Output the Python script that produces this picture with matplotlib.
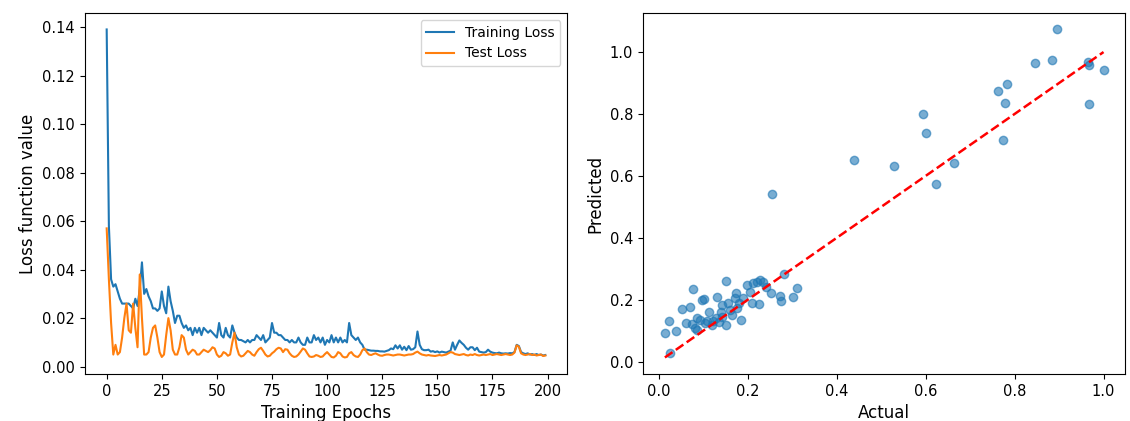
import numpy as np
import matplotlib
matplotlib.use("Agg")
import matplotlib.pyplot as plt

# loss curves (200 epochs)
train_loss = [
    0.139, 0.058, 0.036, 0.033, 0.034, 0.031, 0.028, 0.026, 0.026, 0.026,
    0.026, 0.025, 0.024, 0.028, 0.025, 0.032, 0.043, 0.030, 0.032, 0.029,
    0.027, 0.024, 0.024, 0.023, 0.024, 0.031, 0.025, 0.022, 0.033, 0.027,
    0.023, 0.018, 0.021, 0.021, 0.018, 0.016, 0.017, 0.015, 0.016, 0.013,
    0.016, 0.014, 0.016, 0.013, 0.016, 0.015, 0.014, 0.015, 0.014, 0.013,
    0.012, 0.018, 0.013, 0.012, 0.016, 0.013, 0.012, 0.017, 0.014, 0.012,
    0.011, 0.011, 0.0105, 0.010, 0.011, 0.010, 0.011, 0.011, 0.013, 0.012,
    0.011, 0.013, 0.010, 0.011, 0.012, 0.018, 0.014, 0.014, 0.013, 0.013,
    0.012, 0.011, 0.011, 0.010, 0.011, 0.010, 0.010, 0.012, 0.010, 0.009,
    0.009, 0.012, 0.010, 0.010, 0.013, 0.011, 0.012, 0.010, 0.012, 0.009,
    0.011, 0.010, 0.013, 0.010, 0.012, 0.010, 0.012, 0.010, 0.011, 0.010,
    0.018, 0.013, 0.012, 0.011, 0.012, 0.010, 0.009, 0.007, 0.007, 0.0068,
    0.0066, 0.0066, 0.0065, 0.0065, 0.0063, 0.0063, 0.0062, 0.0065, 0.0068, 0.0075,
    0.0072, 0.0088, 0.0075, 0.0088, 0.0070, 0.0082, 0.0068, 0.0085, 0.0070, 0.0072,
    0.0080, 0.0145, 0.0090, 0.0072, 0.0068, 0.0068, 0.0070, 0.0062, 0.0064, 0.0060,
    0.0063, 0.0058, 0.0062, 0.0060, 0.0058, 0.0062, 0.0066, 0.0100, 0.0070, 0.0090,
    0.0108, 0.0098, 0.0090, 0.0078, 0.0070, 0.0080, 0.0080, 0.0068, 0.0078, 0.0062,
    0.0060, 0.0058, 0.0060, 0.0070, 0.0062, 0.0058, 0.0056, 0.0055, 0.0058, 0.0055,
    0.0054, 0.0055, 0.0054, 0.0056, 0.0055, 0.0060, 0.0090, 0.0085, 0.0060, 0.0055,
    0.0052, 0.0055, 0.0050, 0.0052, 0.0048, 0.0052, 0.0048, 0.0050, 0.0046, 0.0048,
]
test_loss = [
    0.057, 0.036, 0.018, 0.005, 0.009, 0.005, 0.006, 0.012, 0.020, 0.026,
    0.015, 0.014, 0.026, 0.016, 0.008, 0.038, 0.020, 0.005, 0.005, 0.006,
    0.012, 0.016, 0.017, 0.012, 0.006, 0.004, 0.005, 0.013, 0.020, 0.015,
    0.007, 0.005, 0.005, 0.008, 0.013, 0.012, 0.007, 0.005, 0.006, 0.007,
    0.0065, 0.005, 0.005, 0.006, 0.007, 0.0065, 0.006, 0.0068, 0.008, 0.0075,
    0.005, 0.004, 0.0045, 0.006, 0.0055, 0.0045, 0.005, 0.010, 0.014, 0.008,
    0.005, 0.0042, 0.0045, 0.0055, 0.0065, 0.006, 0.005, 0.0045, 0.006, 0.0072,
    0.0078, 0.0065, 0.005, 0.0042, 0.0045, 0.0055, 0.0062, 0.0072, 0.0078, 0.0075,
    0.0060, 0.0072, 0.0070, 0.0055, 0.0045, 0.0040, 0.0042, 0.0050, 0.0062, 0.0075,
    0.0070, 0.0055, 0.0042, 0.0040, 0.0042, 0.0048, 0.0045, 0.0040, 0.0042, 0.0052,
    0.0060, 0.0050, 0.0040, 0.0038, 0.0045, 0.0060, 0.0055, 0.0042, 0.0038, 0.0040,
    0.0055, 0.0060, 0.0048, 0.0042, 0.0040, 0.0050, 0.0068, 0.0075, 0.0060, 0.0050,
    0.0048, 0.0052, 0.0055, 0.0050, 0.0046, 0.0045, 0.0048, 0.0050, 0.0050, 0.0048,
    0.0046, 0.0048, 0.0050, 0.0050, 0.0048, 0.0046, 0.0048, 0.0050, 0.0050, 0.0052,
    0.0058, 0.0062, 0.0055, 0.0050, 0.0048, 0.0046, 0.0048, 0.0046, 0.0045, 0.0044,
    0.0046, 0.0048, 0.0046, 0.0048, 0.0050, 0.0055, 0.0060, 0.0058, 0.0052, 0.0050,
    0.0048, 0.0050, 0.0052, 0.0048, 0.0046, 0.0050, 0.0048, 0.0052, 0.0048, 0.0046,
    0.0048, 0.0050, 0.0048, 0.0050, 0.0052, 0.0048, 0.0050, 0.0052, 0.0050, 0.0048,
    0.0050, 0.0052, 0.0050, 0.0048, 0.0050, 0.0058, 0.0088, 0.0082, 0.0055, 0.0050,
    0.0048, 0.0050, 0.0052, 0.0048, 0.0050, 0.0046, 0.0048, 0.0050, 0.0044, 0.0046,
]
epochs = list(range(len(train_loss)))

# actual vs predicted
actual = [
    0.896, 0.845, 0.884, 0.965, 0.968, 1.000, 0.968, 0.762, 0.782, 0.779,
    0.774, 0.593, 0.601, 0.663, 0.623, 0.529, 0.438, 0.255,
    0.0135, 0.023, 0.025, 0.038, 0.052, 0.061, 0.070, 0.077, 0.074, 0.081,
    0.085, 0.092, 0.086, 0.096, 0.101, 0.104, 0.109, 0.113, 0.119, 0.122,
    0.130, 0.128, 0.136, 0.141, 0.140, 0.143, 0.151, 0.152, 0.156, 0.160,
    0.164, 0.171, 0.173, 0.175, 0.184, 0.181, 0.190, 0.199, 0.205, 0.209,
    0.211, 0.220, 0.227, 0.226, 0.235, 0.241, 0.252, 0.273, 0.274, 0.282,
    0.301, 0.310,
]
predicted = [
    1.073, 0.965, 0.973, 0.968, 0.957, 0.943, 0.831, 0.873, 0.898, 0.835,
    0.715, 0.800, 0.737, 0.640, 0.574, 0.633, 0.650, 0.542,
    0.092, 0.131, 0.029, 0.099, 0.171, 0.126, 0.177, 0.233, 0.122, 0.108,
    0.140, 0.134, 0.102, 0.199, 0.202, 0.124, 0.132, 0.161, 0.118, 0.132,
    0.210, 0.140, 0.129, 0.183, 0.161, 0.145, 0.118, 0.261, 0.188, 0.167,
    0.151, 0.205, 0.221, 0.172, 0.134, 0.188, 0.205, 0.247, 0.226, 0.188,
    0.253, 0.258, 0.263, 0.186, 0.258, 0.242, 0.221, 0.212, 0.197, 0.283,
    0.210, 0.239,
]

fig = plt.figure(figsize=(11.3, 4.21), dpi=100)
ax1 = fig.add_axes([0.075, 0.112, 0.427, 0.857])
ax2 = fig.add_axes([0.569, 0.112, 0.427, 0.857])

ax1.plot(epochs, train_loss, label='Training Loss', lw=1.5)
ax1.plot(epochs, test_loss, label='Test Loss', lw=1.5)
ax1.set_xlabel('Training Epochs', fontsize=12)
ax1.set_ylabel('Loss function value', fontsize=12)
ax1.set_xticks(range(0, 201, 25))
ax1.legend(fontsize=10)
ax1.tick_params(labelsize=10.5)

ax2.scatter(actual, predicted, alpha=0.6)
lo, hi = min(actual), max(actual)
ax2.plot([lo, hi], [lo, hi], 'r--', lw=1.8)
ax2.set_xlabel('Actual', fontsize=12)
ax2.set_ylabel('Predicted', fontsize=12)
ax2.tick_params(labelsize=10.5)

fig.savefig('out.png', dpi=100)
